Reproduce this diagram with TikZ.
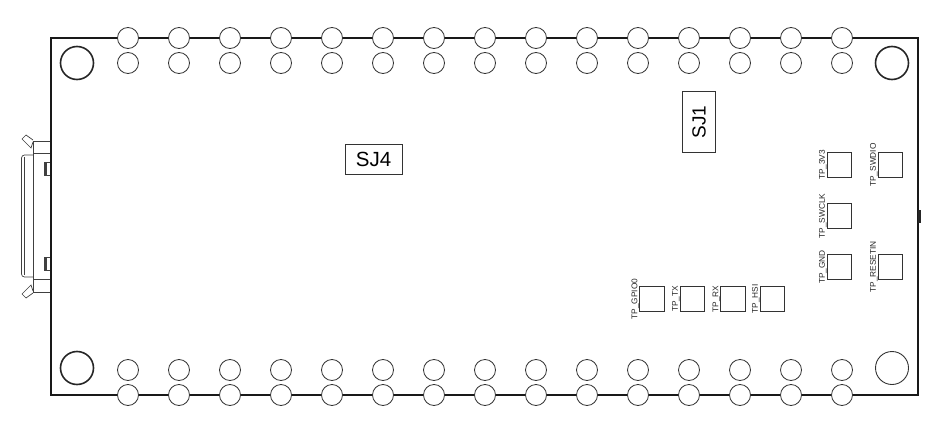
\documentclass[tikz,border=0pt]{standalone}
\usepackage{fontspec}
\setmainfont{Liberation Sans}
\tikzset{
  hole/.style = {draw=black!80, circle, fill=white, line width=0.8pt, inner sep=0pt, minimum size=21pt},
  mount/.style = {draw=black!85, circle, line width=1.6pt, inner sep=0pt, minimum size=33pt},
  mountthin/.style = {draw=black!80, circle, line width=0.9pt, inner sep=0pt, minimum size=33pt},
  pad/.style = {draw=black!80, line width=0.9pt, inner sep=0pt, minimum size=24.5pt},
  padtext/.style = {rotate=90, font=\fontsize{8.3}{9}\selectfont, text=black!85, inner sep=0pt, anchor=south},
  jumper/.style = {draw=black!80, line width=0.9pt, inner sep=0pt},
  part/.style = {draw=black!75, line width=0.7pt}
}
\begin{document}
\begin{tikzpicture}[x=1pt, y=-1pt]
  \useasboundingbox (0,0) rectangle (951,431);
  % connector
  \draw[part] (51,141) -- (33,141) -- (33,292) -- (51,292);
  \draw[part] (33,153) -- (51,153) (33,279) -- (51,279);
  \draw[part, rounded corners=3pt] (33,155) -- (21.5,155) -- (21.5,277) -- (33,277);
  \draw[part] (24.5,157) -- (24.5,275);
  \draw[part] (33,142) -- (31,148) -- (22,139) -- (26,135) -- (33,140);
  \draw[part] (33,291) -- (31,285) -- (22,294) -- (26,298) -- (33,293);
  \foreach \y in {162,257} {
    \draw[part, fill=black!75] (44,\y) rectangle (46,\y+13);
    \draw[part] (46,\y) rectangle (51,\y+13);
  }
  % board
  \draw[line width=1.8pt, draw=black!90] (51,38) rectangle (918,395);
  \fill[black!85] (918,210) rectangle (921,223);
  % mounting holes
  \node[mount] (m1) at (77,63) {};
  \node[mount] (m2) at (892,63) {};
  \node[mount] (m3) at (77,368) {};
  \node[mountthin] (m4) at (892,368) {};
  % pin holes
  \foreach \i in {0,...,14} {
    \pgfmathsetmacro{\px}{128+51*\i}
    \node[hole] (a\i) at (\px,38) {};
    \node[hole] (b\i) at (\px,63) {};
    \node[hole] (c\i) at (\px,370) {};
    \node[hole] (d\i) at (\px,395) {};
  }
  % test pads
  \foreach \name/\x/\y/\txt in {tpa/839.5/165/TP\_3V3, tpb/890.5/165/TP\_SWDIO, tpc/839.5/216/TP\_SWCLK,
      tpd/839.5/267/TP\_GND, tpe/890.5/267/TP\_RESETIN, tpf/652/299/TP\_GPIO0,
      tpg/692.5/299/TP\_TX, tph/733/299/TP\_RX, tpi/772.5/299/TP\_HSI} {
    \node[pad] (\name) at (\x,\y) {};
    \node[padtext] (\name t) at (\name.west) {\txt};
  }
  % solder jumpers
  \node[jumper, minimum width=57pt, minimum height=30pt, font=\fontsize{20.5}{22}\selectfont] (sj4) at (373.5,159) {SJ4};
  \node[jumper, rotate=90, minimum width=61.5pt, minimum height=33.5pt, font=\fontsize{19}{20}\selectfont] (sj1) at (699,122) {SJ1\hspace{5pt}};
\end{tikzpicture}
\end{document}
